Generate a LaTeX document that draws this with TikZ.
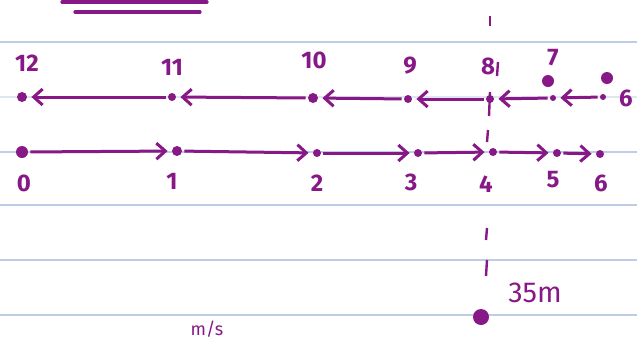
\documentclass[tikz,border=0pt]{standalone}
\usepackage{fontspec}
\setmainfont{Fira Sans}
\usetikzlibrary{arrows.meta}
\definecolor{ink}{RGB}{135,25,135}
\definecolor{rule}{RGB}{190,205,230}
\begin{document}
\begin{tikzpicture}[x=0.5pt,y=-0.5pt,
  dot/.style={circle,fill=ink,inner sep=0pt,minimum size=#1},
  dot/.default=4pt,
  lbl/.style={text=ink,font=\large\bfseries,inner sep=0pt},
  mv/.style={draw=ink,line width=1.5pt,-{Straight Barb[length=4.5pt,width=8pt,line width=1.5pt]},shorten <=1pt,shorten >=2pt},
  paper/.style={draw=rule,line width=0.6pt}]
\useasboundingbox (0,0) rectangle (637,339);
\fill[white] (0,0) rectangle (637,339);
% notebook rules
\foreach \y in {42,152,205,260,315}{\draw[paper] (0,\y) -- (637,\y);}
\draw[paper,draw=rule!50] (0,97) -- (637,97);
% title underline
\draw[ink,line width=1.6pt,line cap=round] (62,2) -- (207,2);
\draw[ink,line width=1.6pt,line cap=round] (75,12) -- (200,12);
% dashed vertical line
\draw[ink,line width=1.2pt] (490,16) -- (490,26);
\draw[ink,line width=1.2pt] (498,62) -- (497,76);
\draw[ink,line width=1.2pt] (490,92) -- (489,116);
\draw[ink,line width=1.2pt] (488,130) -- (487,142);
\draw[ink,line width=1.2pt] (487,228) -- (486,240);
\draw[ink,line width=1.2pt] (487,260) -- (486,276);
% top row
\node[dot=5pt] (t12) at (22,97) {};
\node[dot=4pt] (t11) at (172,97) {};
\node[dot=5pt] (t10) at (313,98) {};
\node[dot=4pt] (t9) at (408,99) {};
\node[dot=4pt] (t8) at (490,99) {};
\node[dot=3pt] (t7) at (553,98) {};
\node[dot=3pt] (t6) at (603,97) {};
\draw[mv] (t11) -- (t12);
\draw[mv] (t10) -- (t11);
\draw[mv] (t9) -- (t10);
\draw[mv] (t8) -- (t9);
\draw[mv] (t7) -- (t8);
\draw[mv] (t6) -- (t7);
\node[lbl] (l12) at (27,63) {12};
\node[lbl] (l11) at (172,67) {11};
\node[lbl] (l10) at (314,60) {10};
\node[lbl] (l9) at (410,66) {9};
\node[lbl] (l8) at (488,66) {8};
\node[lbl] (l7) at (553,58) {7};
\node[lbl] (l6t) at (626,98) {6};
\node[dot=6pt] (b1) at (548,81) {};
\node[dot=6pt] (b2) at (607,78) {};
% bottom row
\node[dot=6pt] (d0) at (22,152) {};
\node[dot=5pt] (d1) at (177,151) {};
\node[dot=4pt] (d2) at (317,153) {};
\node[dot=4pt] (d3) at (418,153) {};
\node[dot=4pt] (d4) at (493,152) {};
\node[dot=4pt] (d5) at (557,153) {};
\node[dot=4pt] (d6) at (600,154) {};
\draw[mv] (d0) -- (d1);
\draw[mv] (d1) -- (d2);
\draw[mv] (d2) -- (d3);
\draw[mv] (d3) -- (d4);
\draw[mv] (d4) -- (d5);
\draw[mv] (d5) -- (d6);
\node[lbl] (n0) at (24,183) {0};
\node[lbl] (n1) at (172,181) {1};
\node[lbl] (n2) at (317,183) {2};
\node[lbl] (n3) at (411,182) {3};
\node[lbl] (n4) at (486,184) {4};
\node[lbl] (n5) at (553,180) {5};
\node[lbl] (n6) at (601,183) {6};
% bottom notes
\node[dot=8pt] (scr) at (481,317) {};
\node[lbl,font=\Large] (d35) at (535,293) {35m};
\node[lbl,font=\small] (ms) at (207,329) {m/s};
\end{tikzpicture}
\end{document}
